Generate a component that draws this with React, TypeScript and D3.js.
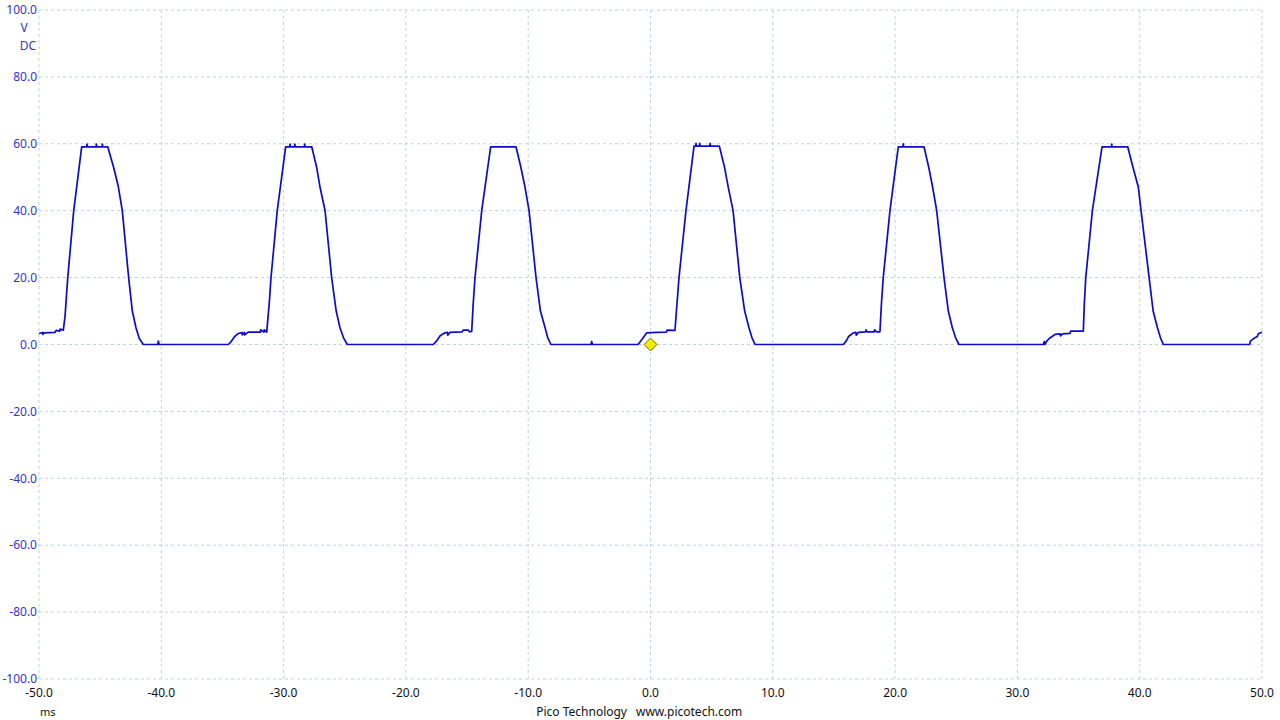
import * as d3 from "d3";

// scope trace: [ms, V]
const pulse1: [number, number][] = [
  [-50.0, 3.3], [-49.7, 3.6], [-49.68, 3.0], [-49.6, 3.5], [-48.7, 3.6], [-48.6, 4.2], [-48.3, 4.0], [-48.28, 4.6], [-48.01, 4.3],
  [-47.87, 8.5], [-47.65, 20], [-47.16, 40], [-46.51, 59.1],
  [-46.1, 59.1], [-46.08, 59.9], [-46.05, 59.1], [-45.33, 59.1], [-45.31, 59.9], [-45.28, 59.1],
  [-44.84, 59.1], [-44.82, 59.9], [-44.79, 59.1], [-44.38, 59.1],
  [-43.9, 53], [-43.52, 47.3], [-43.19, 40], [-42.67, 20], [-42.37, 10], [-42.07, 5], [-41.8, 1.8], [-41.47, 0],
  [-40.3, 0], [-40.24, 1.0], [-40.18, 0],
];
const pulse2: [number, number][] = [
  [-34.52, 0], [-34.3, 0.8], [-34.0, 2.4], [-33.7, 3.3], [-33.4, 3.6], [-33.38, 2.9], [-33.2, 3.6], [-33.18, 2.9],
  [-32.9, 3.7], [-31.9, 3.7], [-31.88, 4.4], [-31.6, 3.7], [-31.58, 4.4], [-31.38, 3.7],
  [-31.17, 12.5], [-31.03, 20], [-30.52, 40], [-29.83, 59.1],
  [-29.5, 59.1], [-29.48, 59.9], [-29.45, 59.1], [-29.1, 59.1], [-29.08, 59.9], [-29.05, 59.1],
  [-28.3, 59.1], [-28.28, 59.9], [-28.25, 59.1], [-27.7, 59.1],
  [-27.3, 53], [-27.02, 47], [-26.61, 40], [-26.07, 20], [-25.7, 10], [-25.39, 5], [-25.1, 2], [-24.79, 0],
];
const pulse3: [number, number][] = [
  [-17.76, 0], [-17.5, 1.0], [-17.2, 2.6], [-16.8, 3.5], [-16.6, 3.6], [-16.58, 2.8], [-16.4, 3.6],
  [-15.4, 3.8], [-15.3, 4.3], [-14.9, 4.3], [-14.8, 3.8], [-14.62, 3.9],
  [-14.5, 12], [-14.35, 20], [-13.8, 40], [-13.07, 59.1], [-11.0, 59.1],
  [-10.6, 53], [-10.26, 47], [-9.93, 40], [-9.36, 20], [-9.0, 10], [-8.62, 5], [-8.4, 2], [-8.14, 0],
  [-4.87, 0], [-4.81, 0.9], [-4.75, 0],
];
const pulse4: [number, number][] = [
  [-1.02, 0], [-0.7, 1.5], [-0.31, 3.5], [0.5, 3.6], [1.3, 3.7], [1.35, 4.3], [2.0, 4.2],
  [2.12, 10], [2.33, 20], [2.9, 40], [3.56, 59.3],
  [3.7, 59.3], [3.72, 60.1], [3.75, 59.3], [4.0, 59.3], [4.02, 60.1], [4.05, 59.3],
  [4.85, 59.3], [4.87, 60.1], [4.9, 59.3], [5.63, 59.3],
  [6.05, 53], [6.36, 47], [6.75, 40], [7.3, 20], [7.7, 10], [8.05, 5], [8.3, 2], [8.55, 0],
];
const pulse5: [number, number][] = [
  [15.76, 0], [16.0, 1.0], [16.2, 2.4], [16.58, 3.5], [16.8, 3.6], [16.82, 2.8], [17.0, 3.6],
  [17.6, 3.8], [17.62, 4.4], [17.7, 3.8], [18.3, 3.8], [18.32, 4.4], [18.5, 3.8], [18.76, 3.8],
  [18.88, 12], [19.03, 20], [19.58, 40], [20.26, 59.1],
  [20.65, 59.1], [20.67, 60.0], [20.7, 59.1], [22.36, 59.1],
  [22.75, 53], [23.07, 47], [23.4, 40], [24.0, 20], [24.35, 10], [24.68, 5], [24.95, 2], [25.22, 0],
];
const pulse6: [number, number][] = [
  [32.12, 0], [32.2, 0.9], [32.25, 0], [32.4, 1.0], [32.6, 1.8], [33.08, 3.0], [33.5, 3.2], [33.52, 2.6], [33.7, 3.2],
  [34.3, 3.3], [34.35, 4.0], [35.39, 4.0],
  [35.47, 12], [35.59, 20], [36.13, 40], [36.92, 59.1],
  [37.69, 59.1], [37.71, 59.9], [37.74, 59.1], [39.02, 59.1],
  [39.45, 53], [39.89, 47], [40.11, 40], [40.77, 20], [41.1, 10], [41.45, 5], [41.7, 2], [41.93, 0],
];
const traceEnd: [number, number][] = [
  [48.99, 0], [49.05, 1.0], [49.4, 2.0], [49.6, 2.3], [49.7, 3.2], [49.95, 3.6], [50.0, 3.7],
];

const timeTicks = [-50, -40, -30, -20, -10, 0, 10, 20, 30, 40, 50];
const voltTicks = [100, 80, 60, 40, 20, 0, -20, -40, -60, -80, -100];
const triggerPoint: [number, number] = [0, 0];

const W = 1280;
const H = 720;
const font = "'Noto Sans', 'Open Sans', sans-serif";

export default function App() {
  const x = d3.scaleLinear().domain([-50, 50]).range([39, 1262]);
  const y = d3.scaleLinear().domain([-100, 100]).range([679, 10]);
  const trace = [...pulse1, ...pulse2, ...pulse3, ...pulse4, ...pulse5, ...pulse6, ...traceEnd];
  const line = d3.line<[number, number]>().x(d => x(d[0])).y(d => y(d[1]));
  const tx = x(triggerPoint[0]);
  const ty = y(triggerPoint[1]);
  const grid = "#bcd5e0";

  return (
    <svg width={W} height={H} style={{ position: "absolute", left: 0, top: 0, background: "#fff" }} fontFamily={font}>
      {/* grid */}
      {timeTicks.map(t => (
        <line key={"vx" + t} x1={x(t)} x2={x(t)} y1={y(100)} y2={y(-100)} stroke={grid} strokeDasharray="3,3" />
      ))}
      {voltTicks.map(v => (
        <line key={"hy" + v} x1={x(-50)} x2={x(50)} y1={y(v)} y2={y(v)} stroke={grid} strokeDasharray="3,3" />
      ))}

      {/* y labels */}
      {voltTicks.map(v => (
        <text key={"yl" + v} x={37} y={y(v)} dy="0.35em" textAnchor="end" fontSize={12} fill="#3434c8">
          {v.toFixed(1)}
        </text>
      ))}
      <text x={24} y={28} dy="0.35em" textAnchor="middle" fontSize={12} fill="#3434c8">V</text>
      <text x={28} y={46} dy="0.35em" textAnchor="middle" fontSize={12} fill="#3434c8">DC</text>

      {/* x labels */}
      {timeTicks.map(t => (
        <text key={"xl" + t} x={x(t)} y={697} textAnchor="middle" fontSize={12} fill="#111">
          {t.toFixed(1)}
        </text>
      ))}
      <text x={40} y={716} fontSize={11} fill="#111">ms</text>
      <text x={627} y={716} textAnchor="end" fontSize={12} fill="#111">Pico Technology</text>
      <text x={636} y={716} fontSize={12} fill="#111">www.picotech.com</text>

      {/* trace */}
      <path d={line(trace) ?? ""} fill="none" stroke="#0c0cc8" strokeWidth={1.7} strokeLinejoin="round" />

      {/* trigger marker */}
      <path
        d={`M${tx},${ty - 6.5}L${tx + 6.5},${ty}L${tx},${ty + 6.5}L${tx - 6.5},${ty}Z`}
        fill="#f2ec00"
        stroke="#6b6b2a"
        strokeWidth={1}
      />
    </svg>
  );
}
